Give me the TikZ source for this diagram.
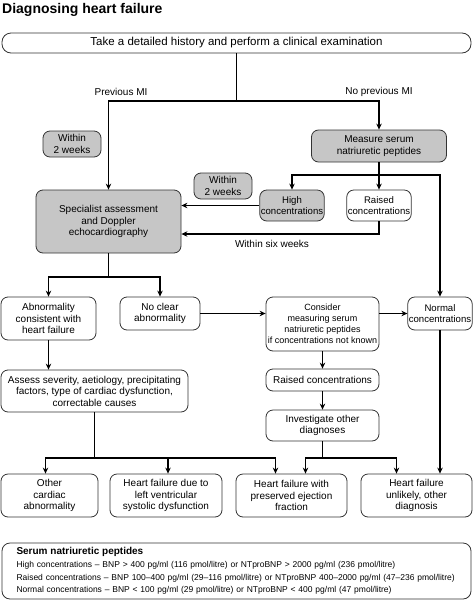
\documentclass[tikz,border=0pt]{standalone}
\usepackage{fontspec}
\setmainfont{Liberation Sans}
\usetikzlibrary{arrows.meta}

\begin{document}
\begin{tikzpicture}[x=1pt,y=-1pt,
    >={Stealth[length=6pt,width=5.5pt]},
    box/.style={draw=black!80,line width=0.8pt,rounded corners=7pt,align=center,
        inner sep=1pt,font=\fontsize{10}{11.5}\selectfont},
    greybox/.style={box,fill=gray!45},
    link/.style={->,line width=1.3pt},
    note/.style={font=\fontsize{10}{11.5}\selectfont}]

    \useasboundingbox (0,0) rectangle (473,600);

    % Title
    \node[anchor=west,inner sep=0pt,font=\bfseries\fontsize{14}{16}\selectfont]
        (title) at (2,10) {Diagnosing heart failure};

    % Boxes
    \node[box,rounded corners=9pt,minimum width=469pt,minimum height=20pt,font=\fontsize{11.5}{13}\selectfont]
        (history) at (236.5,43) {Take a detailed history and perform a clinical examination};

    \node[greybox,minimum width=58pt,minimum height=26pt] (within1) at (72,144) {Within\\2 weeks};
    \node[greybox,minimum width=135pt,minimum height=32pt] (measure) at (379,146) {Measure serum\\natriuretic peptides};
    \node[greybox,minimum width=58pt,minimum height=26pt] (within2) at (223,186) {Within\\2 weeks};
    \node[greybox,minimum width=64pt,minimum height=31pt,font=\fontsize{9.6}{11.5}\selectfont]
        (high) at (292,205.5) {High\\concentrations};
    \node[box,minimum width=64pt,minimum height=31pt,font=\fontsize{9.6}{11.5}\selectfont]
        (raised) at (379,205.5) {Raised\\concentrations};
    \node[greybox,minimum width=145pt,minimum height=63pt] (special) at (108.5,221.5)
        {Specialist assessment\\and Doppler\\echocardiography};

    \node[box,minimum width=95pt,minimum height=43pt] (abnormal) at (48.5,318.5)
        {Abnormality\\consistent with\\heart failure};
    \node[box,minimum width=80pt,minimum height=33pt] (noclear) at (160,313.5) {No clear\\abnormality};
    \node[box,minimum width=113pt,minimum height=54pt,font=\fontsize{9}{11}\selectfont] (consider) at (322.5,324)
        {Consider\\measuring serum\\natriuretic peptides\\if concentrations not known};
    \node[box,minimum width=64pt,minimum height=33pt,font=\fontsize{9.6}{11.5}\selectfont]
        (normal) at (440,313.5) {Normal\\concentrations};

    \node[box,minimum width=187pt,minimum height=42pt] (assess) at (94.5,391)
        {Assess severity, aetiology, precipitating\\factors, type of cardiac dysfunction,\\correctable causes};
    \node[box,minimum width=113pt,minimum height=22pt] (raised2) at (322.5,380) {Raised concentrations};
    \node[box,minimum width=113pt,minimum height=31pt] (investigate) at (322.5,425.5) {Investigate other\\diagnoses};

    \node[box,minimum width=97pt,minimum height=43pt] (other) at (49.5,495.5) {Other\\cardiac\\abnormality};
    \node[box,minimum width=112pt,minimum height=43pt] (lvsd) at (166,495.5)
        {Heart failure due to\\left ventricular\\systolic dysfunction};
    \node[box,minimum width=111pt,minimum height=43pt] (hfpef) at (291.5,495.5)
        {Heart failure with\\preserved ejection\\fraction};
    \node[box,minimum width=111pt,minimum height=43pt] (unlikely) at (416.5,495.5)
        {Heart failure\\unlikely, other\\diagnosis};

    % Key
    \node[box,rounded corners=8pt,align=left,text width=440pt,inner xsep=14.5pt,
        minimum height=56pt,font=\fontsize{8.5}{12.5}\selectfont] (serum) at (236.5,571)
        {{\bfseries\fontsize{10}{12}\selectfont Serum natriuretic peptides}\\[0.5pt]
         High concentrations – BNP > 400 pg/ml (116 pmol/litre) or NTproBNP > 2000 pg/ml (236 pmol/litre)\\
         Raised concentrations – BNP 100–400 pg/ml (29–116 pmol/litre) or NTproBNP 400–2000 pg/ml (47–236 pmol/litre)\\
         Normal concentrations – BNP < 100 pg/ml (29 pmol/litre) or NTproBNP < 400 pg/ml (47 pmol/litre)};

    % Branch points
    \coordinate (mi) at (236.5,101);
    \coordinate (msplit) at (379,175);
    \coordinate (ssplit) at (108.5,277);
    \coordinate (asplit) at (94.5,458);
    \coordinate (isplit) at (322.5,458);

    % Arrows
    \draw[line width=1.3pt] (history.south) -- (mi);
    \draw[link] (mi) -| (special.north);
    \draw[link] (mi) -| (measure.north);
    \node[note] (prevmi) at (121,92) {Previous MI};
    \node[note] (noprevmi) at (379,92) {No previous MI};

    \draw[line width=1.3pt] (measure.south) -- (msplit);
    \draw[link] (msplit) -| (high.north);
    \draw[link] (msplit) -- (raised.north);
    \draw[link] (msplit) -| (normal.north);

    \draw[link] (high.west) -- (high.west -| special.east);
    \draw[link] (raised.south) |- (special.east |- 0,234);
    \node[note] (sixweeks) at (272,244) {Within six weeks};

    \draw[line width=1.3pt] (special.south) -- (ssplit);
    \draw[link] (ssplit) -| (abnormal.north);
    \draw[link] (ssplit) -| (noclear.north);

    \draw[link] (noclear.east) -- (noclear.east -| consider.west);
    \draw[link] (consider.east |- normal.west) -- (normal.west);
    \draw[link] (normal.south) -- (normal.south |- unlikely.north);

    \draw[link] (abnormal.south) -- (abnormal.south |- assess.north);
    \draw[link] (consider.south) -- (raised2.north);
    \draw[link] (raised2.south) -- (investigate.north);

    \draw[line width=1.3pt] (assess.south) -- (asplit);
    \draw[link] (asplit) -| ([xshift=-4pt]other.north);
    \draw[link] (asplit) -| ([xshift=2pt]lvsd.north);
    \draw[link] (asplit) -| ([xshift=-16pt]hfpef.north);

    \draw[line width=1.3pt] (investigate.south) -- (isplit);
    \draw[link] (isplit) -| ([xshift=14pt]hfpef.north);
    \draw[link] (isplit) -| ([xshift=-20pt]unlikely.north);

\end{tikzpicture}
\end{document}
